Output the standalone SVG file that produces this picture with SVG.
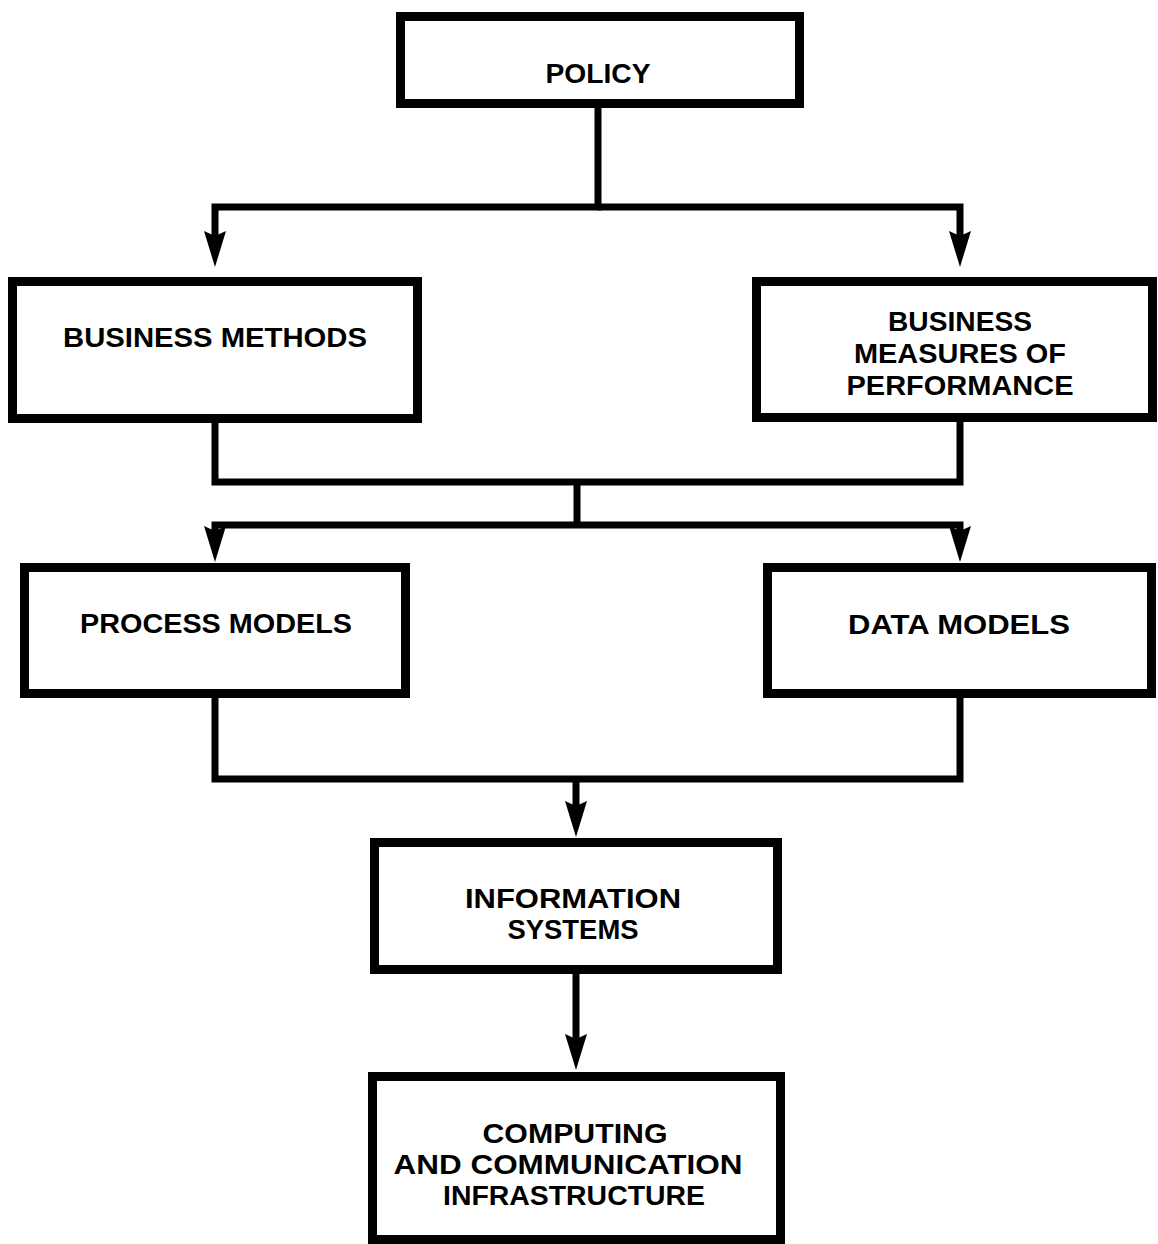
<svg xmlns="http://www.w3.org/2000/svg" width="1158" height="1244" viewBox="0 0 1158 1244">
  <style>
    .box { fill: #ffffff; stroke: #000000; stroke-width: 9; }
    .wire { fill: none; stroke: #000000; stroke-width: 7; stroke-linejoin: miter; stroke-linecap: butt; }
    .lbl { font-family: "Liberation Sans", Arial, sans-serif; font-weight: 700; font-size: 27px; fill: #000000; text-anchor: middle; }
  </style>
  <defs>
    <marker id="head" markerUnits="userSpaceOnUse" viewBox="0 -11 36 22" markerWidth="36" markerHeight="22" refX="8" refY="0" orient="auto">
      <path d="M0,-11 L36,0 L0,11 L5,0 Z" fill="#000000"/>
    </marker>
  </defs>
  <rect width="1158" height="1244" fill="#ffffff"/>

  <!-- connectors -->
  <g id="connectors">
    <path class="wire" d="M598,108 V207 H215 V239" marker-end="url(#head)"/>
    <path class="wire" d="M598,207 H960 V239" marker-end="url(#head)"/>
    <path class="wire" d="M215,423 V482 H960 V422"/>
    <path class="wire" d="M577,482 V525"/>
    <path class="wire" d="M577,525 H215 V534" marker-end="url(#head)"/>
    <path class="wire" d="M577,525 H960 V534" marker-end="url(#head)"/>
    <path class="wire" d="M215,698 V779 H960 V698"/>
    <path class="wire" d="M576,779 V809" marker-end="url(#head)"/>
    <path class="wire" d="M576,974 V1042" marker-end="url(#head)"/>
  </g>

  <!-- nodes -->
  <g id="policy">
    <rect class="box" x="400.5" y="16.5" width="399" height="87"/>
    <text class="lbl" x="598" y="83" textLength="105" lengthAdjust="spacingAndGlyphs">POLICY</text>
  </g>
  <g id="business-methods">
    <rect class="box" x="12.5" y="281.5" width="405" height="137"/>
    <text class="lbl" x="215" y="347" textLength="304" lengthAdjust="spacingAndGlyphs">BUSINESS METHODS</text>
  </g>
  <g id="business-measures">
    <rect class="box" x="756.5" y="281.5" width="396" height="136"/>
    <text class="lbl" x="960" y="331" textLength="144" lengthAdjust="spacingAndGlyphs">BUSINESS</text>
    <text class="lbl" x="960" y="363" textLength="212" lengthAdjust="spacingAndGlyphs">MEASURES OF</text>
    <text class="lbl" x="960" y="395" textLength="227" lengthAdjust="spacingAndGlyphs">PERFORMANCE</text>
  </g>
  <g id="process-models">
    <rect class="box" x="24.5" y="567.5" width="381" height="126"/>
    <text class="lbl" x="216" y="633" textLength="272" lengthAdjust="spacingAndGlyphs">PROCESS MODELS</text>
  </g>
  <g id="data-models">
    <rect class="box" x="767.5" y="567.5" width="384" height="126"/>
    <text class="lbl" x="959" y="634" textLength="222" lengthAdjust="spacingAndGlyphs">DATA MODELS</text>
  </g>
  <g id="information-systems">
    <rect class="box" x="374.5" y="842.5" width="403" height="127"/>
    <text class="lbl" x="573" y="908" textLength="216" lengthAdjust="spacingAndGlyphs">INFORMATION</text>
    <text class="lbl" x="573" y="939" textLength="131" lengthAdjust="spacingAndGlyphs">SYSTEMS</text>
  </g>
  <g id="infrastructure">
    <rect class="box" x="372.5" y="1076.5" width="408" height="163"/>
    <text class="lbl" x="575" y="1143" textLength="185" lengthAdjust="spacingAndGlyphs">COMPUTING</text>
    <text class="lbl" x="568" y="1174" textLength="349" lengthAdjust="spacingAndGlyphs">AND COMMUNICATION</text>
    <text class="lbl" x="574" y="1205" textLength="262" lengthAdjust="spacingAndGlyphs">INFRASTRUCTURE</text>
  </g>
</svg>
